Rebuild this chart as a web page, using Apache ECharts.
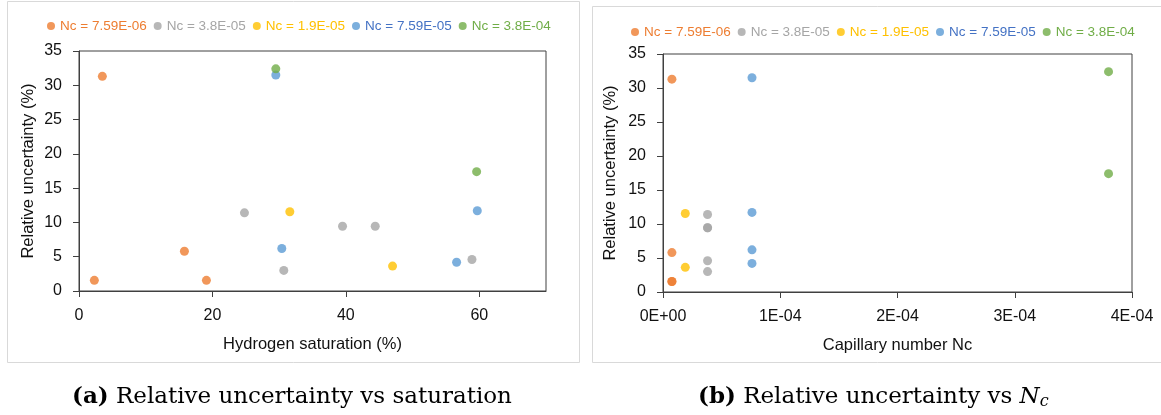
<!DOCTYPE html>
<html>
<head>
<meta charset="utf-8">
<script src="https://cdn.jsdelivr.net/npm/echarts@6/dist/echarts.min.js"></script>
<style>
html,body{margin:0;padding:0;background:#fff;}
#c{width:1161px;height:415px;}
</style>
</head>
<body>
<div id="c"></div>
<script>
// ---- data ----
const seriesNames = ['Nc = 7.59E-06', 'Nc = 3.8E-05', 'Nc = 1.9E-05', 'Nc = 7.59E-05', 'Nc = 3.8E-04'];
const ncValues = [7.59e-6, 3.8e-5, 1.9e-5, 7.59e-5, 3.8e-4];
const markerColors = ['#ED7D31', '#A5A5A5', '#FFC000', '#5B9BD5', '#70AD47'];
const legendTextColors = ['#ED7D31', '#A5A5A5', '#FFC000', '#4472C4', '#70AD47'];
// hydrogen saturation (%) per series
const satOrange = [3.5, 15.8, 2.3, 19.1];
const satGray = [24.8, 39.5, 44.4, 30.7, 58.9];
const satYellow = [31.6, 47.0];
const satBlue = [29.5, 30.4, 59.7, 56.6];
const satGreen = [29.5, 59.6];
// relative uncertainty (%) per series
const uncOrange = [31.3, 5.8, 1.55, 1.55];
const uncGray = [11.4, 9.45, 9.45, 3.0, 4.6];
const uncYellow = [11.55, 3.63];
const uncBlue = [31.5, 6.2, 11.7, 4.2];
const uncGreen = [32.4, 17.4];
const satTicks = [0, 20, 40, 60];

const satSets = [satOrange, satGray, satYellow, satBlue, satGreen];
const uncSets = [uncOrange, uncGray, uncYellow, uncBlue, uncGreen];

function expFmt(v) {
  if (v === 0) return '0E+00';
  const s = v.toExponential(0);
  const parts = s.split('e');
  const e = parseInt(parts[1], 10);
  const ae = Math.abs(e);
  return parts[0] + 'E' + (e < 0 ? '-' : '+') + (ae < 10 ? '0' + ae : '' + ae);
}

const axisCol = '#404040';
const labelFont = {color: '#111', fontSize: 16, fontFamily: 'Liberation Sans'};
const nameFont = {color: '#111', fontSize: 16.5, fontFamily: 'Liberation Sans'};

const series = [];
seriesNames.forEach((n, i) => {
  series.push({
    name: n, type: 'scatter', xAxisIndex: 0, yAxisIndex: 0,
    symbol: 'circle', symbolSize: 9,
    itemStyle: {color: markerColors[i]},
    data: satSets[i].map((x, k) => [x, uncSets[i][k]])
  });
  series.push({
    name: n, type: 'scatter', xAxisIndex: 1, yAxisIndex: 1,
    symbol: 'circle', symbolSize: 9,
    itemStyle: {color: markerColors[i]},
    data: uncSets[i].map(y => [ncValues[i], y])
  });
});

function legendData() {
  return seriesNames.map((n, i) => ({name: n, textStyle: {color: legendTextColors[i]}}));
}
const legendCommon = {
  icon: 'circle', itemWidth: 8, itemHeight: 8, itemGap: 7,
  textStyle: {fontSize: 13.5, fontFamily: 'Liberation Sans'},
  selectedMode: false
};

const yAxisCommon = {
  type: 'value', min: 0, max: 35, interval: 5,
  name: 'Relative uncertainty (%)', nameLocation: 'middle', nameTextStyle: nameFont,
  axisLine: {show: true, lineStyle: {color: axisCol, width: 1}},
  axisTick: {show: true, length: 6, inside: false, lineStyle: {color: axisCol}},
  axisLabel: Object.assign({margin: 17}, labelFont),
  splitLine: {show: false}
};

const capFont = 'DejaVu Serif';
const option = {
  animation: false,
  backgroundColor: '#fff',
  grid: [
    {left: 79, top: 51, right: 615, bottom: 124, show: true, borderColor: axisCol, borderWidth: 1, containLabel: false},
    {left: 663, top: 54, right: 29, bottom: 123, show: true, borderColor: axisCol, borderWidth: 1, containLabel: false}
  ],
  legend: [
    Object.assign({left: 42, top: 14, data: legendData()}, legendCommon),
    Object.assign({left: 626, top: 20, data: legendData()}, legendCommon)
  ],
  xAxis: [
    {
      gridIndex: 0, type: 'value', min: 0, max: 70, interval: 20,
      name: 'Hydrogen saturation (%)', nameLocation: 'middle', nameGap: 45, nameTextStyle: nameFont,
      axisLine: {show: true, lineStyle: {color: axisCol}},
      axisTick: {show: true, length: 6, customValues: satTicks, lineStyle: {color: axisCol}},
      axisLabel: Object.assign({margin: 17, customValues: satTicks}, labelFont),
      splitLine: {show: false}
    },
    {
      gridIndex: 1, type: 'value', min: 0, max: 4e-4, interval: 1e-4,
      name: 'Capillary number Nc', nameLocation: 'middle', nameGap: 45, nameTextStyle: nameFont,
      axisLine: {show: true, lineStyle: {color: axisCol}},
      axisTick: {show: true, length: 6, lineStyle: {color: axisCol}},
      axisLabel: Object.assign({margin: 17, formatter: expFmt}, labelFont),
      splitLine: {show: false}
    }
  ],
  yAxis: [
    Object.assign({gridIndex: 0, nameGap: 42}, yAxisCommon),
    Object.assign({gridIndex: 1, nameGap: 44}, yAxisCommon)
  ],
  graphic: [
    {type: 'rect', shape: {x: 7.5, y: 1.5, width: 572, height: 361}, style: {fill: 'none', stroke: '#d9d9d9', lineWidth: 1}, silent: true, z: -1},
    {type: 'rect', shape: {x: 592.5, y: 6.5, width: 590, height: 356}, style: {fill: 'none', stroke: '#d9d9d9', lineWidth: 1}, silent: true, z: -1},
    {type: 'text', x: 72, y: 397, silent: true,
     style: {text: '{b|(a)} Relative uncertainty vs saturation', verticalAlign: 'middle', fill: '#000',
       font: '23px "' + capFont + '"',
       rich: {b: {fontWeight: 'bold', fontSize: 23, fontFamily: capFont, fill: '#000'}}}},
    {type: 'text', x: 698, y: 397, silent: true,
     style: {text: '{b|(b)} Relative uncertainty vs {i|N}{s|c}', verticalAlign: 'middle', fill: '#000',
       font: '23px "' + capFont + '"',
       rich: {
         b: {fontWeight: 'bold', fontSize: 23, fontFamily: capFont, fill: '#000'},
         i: {fontStyle: 'italic', fontSize: 23, fontFamily: capFont, fill: '#000'},
         s: {fontStyle: 'italic', fontSize: 16, fontFamily: capFont, fill: '#000', padding: [9, 0, 0, 0]}
       }}}
  ],
  series: series
};

const chart = echarts.init(document.getElementById('c'), null, {renderer: 'canvas'});
chart.setOption(option);
</script>
</body>
</html>
